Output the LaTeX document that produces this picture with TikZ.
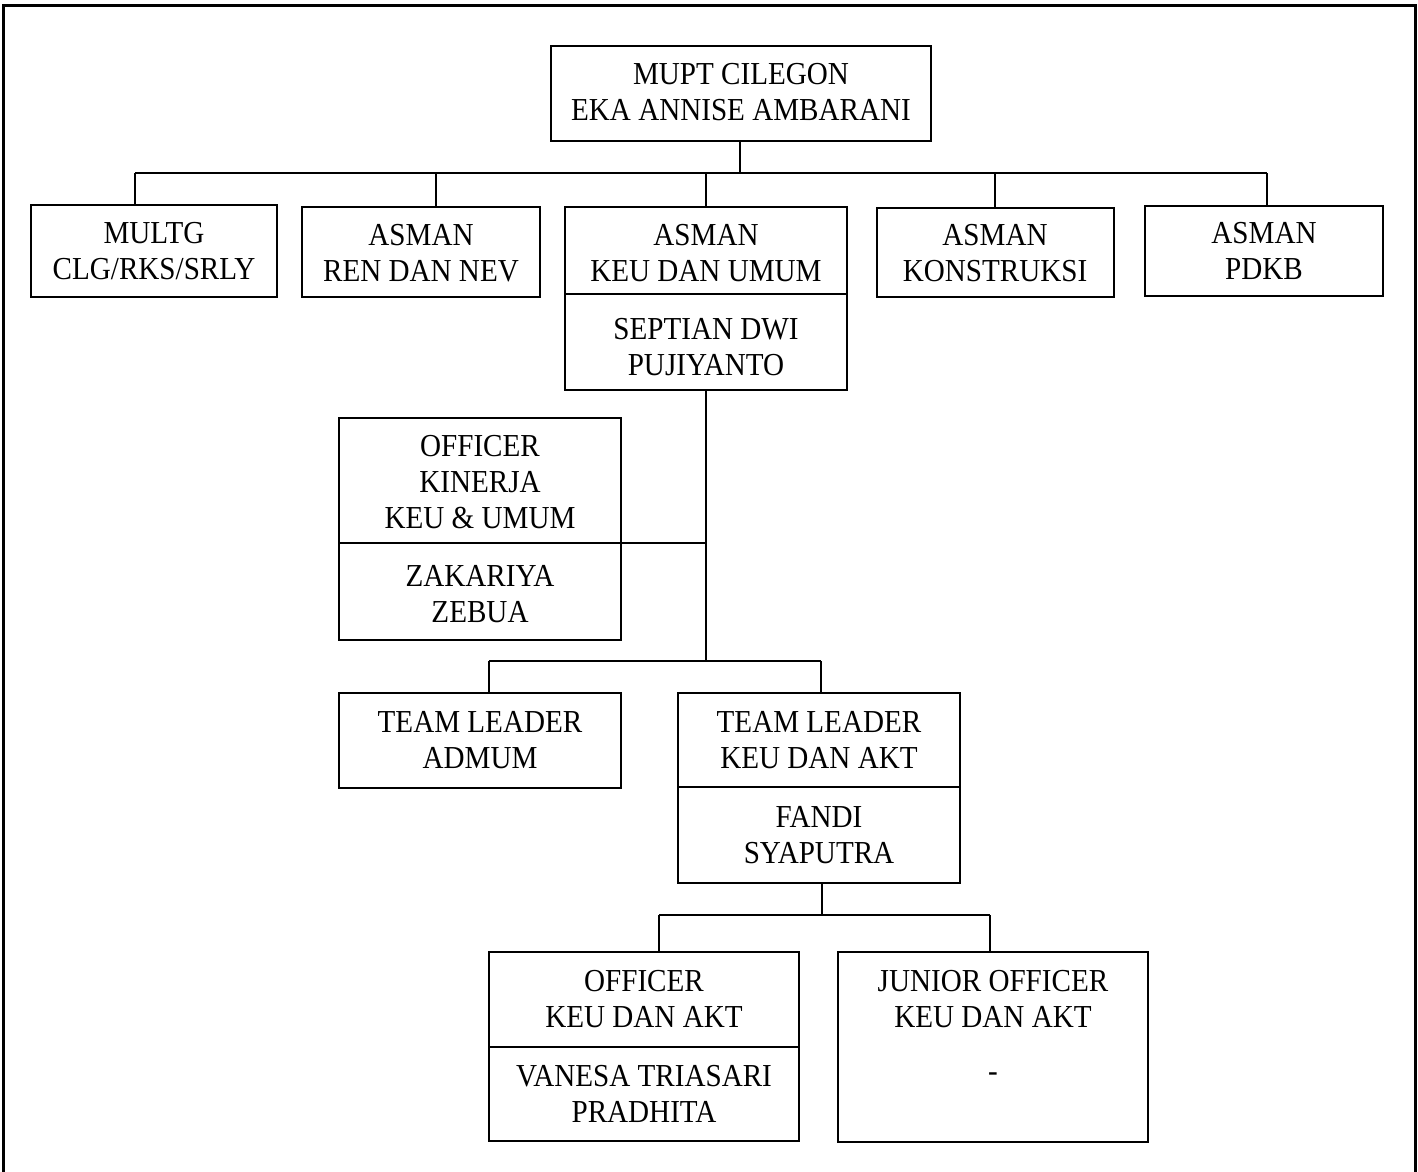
\documentclass[tikz,border=0pt]{standalone}
\usepackage{fontspec}
\setmainfont{Liberation Serif}[FakeStretch=0.91]
\begin{document}
\begin{tikzpicture}[x=1pt,y=-1pt,
  box/.style={draw, line width=2pt, inner sep=0pt, minimum width=#1},
  txt/.style={align=center, inner sep=0pt, font=\fontsize{32}{36}\selectfont},
  conn/.style={line width=1.5pt},
  divline/.style={line width=1.5pt}]
\useasboundingbox (0,0) rectangle (1418,1171);
% outer frame
\draw[line width=3pt] (3,1175) -- (3,5) -- (1415,5) -- (1415,1175);

% boxes
\node[box=380pt, minimum height=95pt] (mupt) at (741,93.5) {};
\node[box=246pt, minimum height=92pt] (multg) at (154,251) {};
\node[box=238pt, minimum height=90pt] (ren) at (421,252) {};
\node[box=282pt, minimum height=183pt] (keu) at (706,298.5) {};
\node[box=237pt, minimum height=89pt] (kons) at (995,252.5) {};
\node[box=238pt, minimum height=90pt] (pdkb) at (1264,251) {};
\node[box=282pt, minimum height=222pt] (offk) at (480,529) {};
\node[box=282pt, minimum height=95pt] (tladm) at (480,740.5) {};
\node[box=282pt, minimum height=190pt] (tlkeu) at (819,788) {};
\node[box=310pt, minimum height=189pt] (offa) at (644,1046.5) {};
\node[box=310pt, minimum height=190pt] (jun) at (993,1047) {};

% dividers
\draw[divline] (keu.west |- 0,294) -- (keu.east |- 0,294);
\draw[divline] (offk.west |- 0,543) -- (offk.east |- 0,543);
\draw[divline] (tlkeu.west |- 0,787) -- (tlkeu.east |- 0,787);
\draw[divline] (offa.west |- 0,1047) -- (offa.east |- 0,1047);

% texts
\node[txt] (t-mupt) at (741,92) {MUPT CILEGON\\EKA ANNISE AMBARANI};
\node[txt] (t-multg) at (154,251.5) {MULTG\\CLG/RKS/SRLY};
\node[txt] (t-ren) at (421,253) {ASMAN\\REN DAN NEV};
\node[txt] (t-keu1) at (706,253.5) {ASMAN\\KEU DAN UMUM};
\node[txt] (t-keu2) at (706,347) {SEPTIAN DWI\\PUJIYANTO};
\node[txt] (t-kons) at (995,253) {ASMAN\\KONSTRUKSI};
\node[txt] (t-pdkb) at (1264,251) {ASMAN\\PDKB};
\node[txt] (t-offk1) at (480,482.5) {OFFICER\\KINERJA\\KEU \& UMUM};
\node[txt] (t-offk2) at (480,594.5) {ZAKARIYA\\ZEBUA};
\node[txt] (t-tladm) at (480,740) {TEAM LEADER\\ADMUM};
\node[txt] (t-tlkeu1) at (819,740) {TEAM LEADER\\KEU DAN AKT};
\node[txt] (t-tlkeu2) at (819,835) {FANDI\\SYAPUTRA};
\node[txt] (t-offa1) at (644,999) {OFFICER\\KEU DAN AKT};
\node[txt] (t-offa2) at (644,1094) {VANESA TRIASARI\\PRADHITA};
\node[txt] (t-jun1) at (993,999) {JUNIOR OFFICER\\KEU DAN AKT};
\node[txt] (t-jun2) at (993,1077) {-};

% connectors level 1
\coordinate (bus1) at (740,173);
\draw[conn] ([xshift=-1pt]mupt.south) -- (bus1);
\draw[conn] ([xshift=-19pt]multg.north |- bus1) -- ([xshift=3pt]pdkb.north |- bus1);
\draw[conn] ([xshift=-19pt]multg.north |- bus1) -- ([xshift=-19pt]multg.north);
\draw[conn] ([xshift=15pt]ren.north |- bus1) -- ([xshift=15pt]ren.north);
\draw[conn] (keu.north |- bus1) -- (keu.north);
\draw[conn] (kons.north |- bus1) -- (kons.north);
\draw[conn] ([xshift=3pt]pdkb.north |- bus1) -- ([xshift=3pt]pdkb.north);

% connectors level 2
\coordinate (bus2) at (706,661);
\draw[conn] (keu.south) -- (bus2);
\draw[conn] (offk.east |- 0,543) -- (keu.south |- 0,543);
\draw[conn] ([xshift=9pt]tladm.north |- bus2) -- ([xshift=2pt]tlkeu.north |- bus2);
\draw[conn] ([xshift=9pt]tladm.north |- bus2) -- ([xshift=9pt]tladm.north);
\draw[conn] ([xshift=2pt]tlkeu.north |- bus2) -- ([xshift=2pt]tlkeu.north);

% connectors level 3
\coordinate (bus3) at (822,915);
\draw[conn] ([xshift=3pt]tlkeu.south) -- (bus3);
\draw[conn] ([xshift=15pt]offa.north |- bus3) -- ([xshift=-3pt]jun.north |- bus3);
\draw[conn] ([xshift=15pt]offa.north |- bus3) -- ([xshift=15pt]offa.north);
\draw[conn] ([xshift=-3pt]jun.north |- bus3) -- ([xshift=-3pt]jun.north);
\end{tikzpicture}
\end{document}
